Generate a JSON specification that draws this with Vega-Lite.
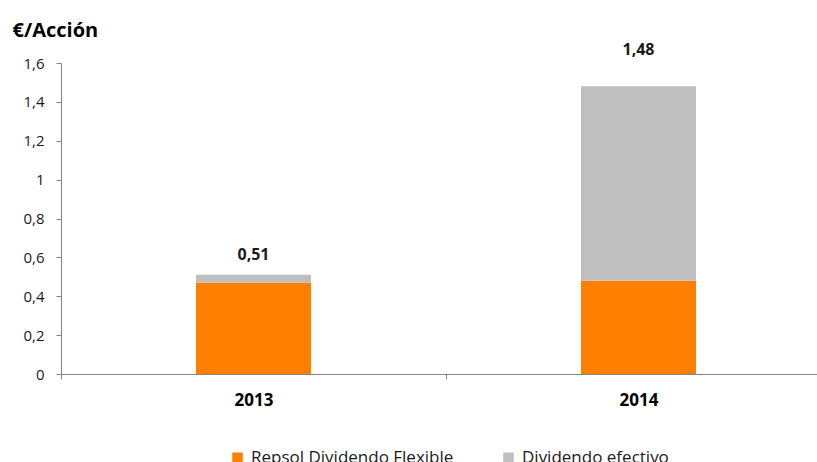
{
  "$schema": "https://vega.github.io/schema/vega-lite/v6.json",
  "autosize": {"type": "none"},
  "padding": {"left": 61, "top": 63, "right": 0, "bottom": 88},
  "width": 770,
  "height": 311,
  "config": {
    "locale": {"number": {"decimal": ",", "thousands": ".", "grouping": [3], "currency": ["", " €"]}},
    "view": {"stroke": null},
    "font": "Open Sans",
    "axisY": {
      "values": [0, 0.2, 0.4, 0.6, 0.8, 1, 1.2, 1.4, 1.6],
      "format": "~g", "grid": false, "labelOverlap": false,
      "labelFontSize": 15, "labelColor": "#1a1a1a",
      "domainColor": "#868686", "tickColor": "#868686", "tickSize": 5, "labelPadding": 12,
      "titleAngle": 0, "titleAlign": "left", "titleBaseline": "middle",
      "titleX": -49, "titleY": -33, "titleFontSize": 20, "titleFontWeight": "bold", "titleColor": "#000000"
    }
  },
  "data": {
    "values": [
      {"anio": "2013", "serie": "Repsol Dividendo Flexible", "orden": 1, "valor": 0.47},
      {"anio": "2013", "serie": "Dividendo efectivo", "orden": 2, "valor": 0.04},
      {"anio": "2014", "serie": "Repsol Dividendo Flexible", "orden": 1, "valor": 0.48},
      {"anio": "2014", "serie": "Dividendo efectivo", "orden": 2, "valor": 1.0}
    ]
  },
  "encoding": {
    "x": {
      "field": "anio", "type": "nominal", "title": null,
      "scale": {"paddingInner": 0, "paddingOuter": 0},
      "axis": {
        "labelAngle": 0, "labelFontWeight": "bold", "labelFontSize": 17, "labelColor": "#000000",
        "domainColor": "#868686", "tickColor": "#868686", "tickSize": 5, "tickBand": "extent",
        "labelPadding": 13
      }
    }
  },
  "layer": [
    {
      "mark": {"type": "bar", "size": 115},
      "encoding": {
        "y": {
          "field": "valor", "type": "quantitative", "stack": "zero",
          "scale": {"domain": [0, 1.6]},
          "title": "€/Acción"
        },
        "color": {
          "field": "serie", "type": "nominal",
          "scale": {"domain": ["Repsol Dividendo Flexible", "Dividendo efectivo"], "range": ["#FF8000", "#BFBFBF"]},
          "legend": {
            "title": null, "orient": "none", "direction": "horizontal",
            "legendX": 168, "legendY": 386,
            "symbolType": "square", "symbolSize": 110, "symbolStrokeWidth": 0,
            "labelFontSize": 17, "labelColor": "#1a1a1a", "labelLimit": 400,
            "columnPadding": 46, "labelOffset": 5
          }
        },
        "order": {"field": "orden", "type": "quantitative"}
      }
    },
    {
      "transform": [
        {"filter": "datum.anio == '2013'"},
        {"aggregate": [{"op": "sum", "field": "valor", "as": "valor"}], "groupby": ["anio"]}
      ],
      "mark": {"type": "text", "dy": -20, "fontWeight": "bold", "fontSize": 16, "color": "#1a1a1a"},
      "encoding": {
        "y": {"field": "valor", "type": "quantitative", "title": "€/Acción"},
        "text": {"field": "valor", "type": "quantitative", "format": ".2f"}
      }
    },
    {
      "transform": [
        {"filter": "datum.anio == '2014'"},
        {"aggregate": [{"op": "sum", "field": "valor", "as": "valor"}], "groupby": ["anio"]}
      ],
      "mark": {"type": "text", "dy": -36, "fontWeight": "bold", "fontSize": 16, "color": "#1a1a1a"},
      "encoding": {
        "y": {"field": "valor", "type": "quantitative", "title": "€/Acción"},
        "text": {"field": "valor", "type": "quantitative", "format": ".2f"}
      }
    }
  ]
}
